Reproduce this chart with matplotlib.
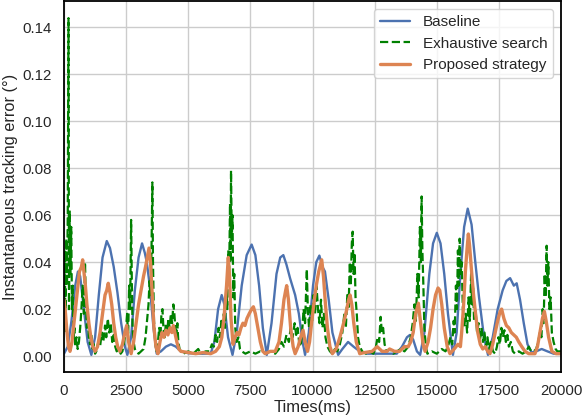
import matplotlib
matplotlib.use('Agg')
import seaborn as sns
from matplotlib import pyplot as plt

# Baseline (smooth)
baseline_t = [0, 150, 300, 450, 560, 650, 800, 950, 1100, 1250, 1400, 1550, 1720, 1850, 2000, 2150, 2300, 2450,
              2550, 2700, 2850, 3000, 3140, 3250, 3330, 3450, 3600, 3730, 3900, 4100, 4300, 4500, 4700, 5000,
              5500, 5900, 6050, 6200, 6345, 6450, 6600, 6780, 6950, 7150, 7350, 7550, 7700, 7850, 8000, 8160,
              8350, 8550, 8700, 8825, 8950, 9100, 9300, 9450, 9600, 9700, 9850, 10020, 10150, 10275, 10400,
              10500, 10650, 10800, 11030, 11200, 11430, 11650, 11900, 12200, 12800, 13390, 13600, 13800, 13920,
              14050, 14200, 14330, 14500, 14700, 14850, 15000, 15150, 15300, 15450, 15650, 15800, 15950, 16100,
              16245, 16400, 16550, 16700, 16900, 17060, 17250, 17450, 17650, 17800, 17950, 18100, 18215, 18350,
              18500, 18650, 18820, 19000, 19220, 19450, 19700, 20000]
baseline_err = [0.001, 0.004, 0.015, 0.030, 0.036, 0.034, 0.020, 0.006, 0.0005, 0.008, 0.026, 0.042, 0.049, 0.046,
                0.038, 0.027, 0.014, 0.004, 0.0005, 0.008, 0.028, 0.042, 0.048, 0.044, 0.040, 0.030, 0.012, 0.001,
                0.002, 0.004, 0.005, 0.004, 0.002, 0.0012, 0.001, 0.001, 0.006, 0.020, 0.026, 0.022, 0.008, 0.0005,
                0.010, 0.030, 0.043, 0.0475, 0.043, 0.030, 0.012, 0.0005, 0.014, 0.035, 0.042, 0.043, 0.039, 0.033,
                0.026, 0.018, 0.006, 0.0005, 0.010, 0.030, 0.040, 0.0428, 0.038, 0.036, 0.024, 0.010, 0.0005, 0.003,
                0.006, 0.004, 0.002, 0.001, 0.001, 0.001, 0.004, 0.008, 0.009, 0.007, 0.002, 0.0005, 0.010, 0.035,
                0.048, 0.0525, 0.048, 0.035, 0.018, 0.0005, 0.010, 0.035, 0.055, 0.0628, 0.056, 0.040, 0.025, 0.008,
                0.0005, 0.008, 0.020, 0.028, 0.032, 0.0332, 0.030, 0.031, 0.024, 0.014, 0.005, 0.0015, 0.002, 0.003,
                0.002, 0.001, 0.001]

# Exhaustive search (spiky)
exhaustive_t = [0, 30, 60, 90, 120, 150, 180, 200, 230, 260, 290, 320, 350, 380, 420, 460, 500, 550, 600, 650,
                700, 750, 800, 845, 880, 920, 960, 1000, 1050, 1100, 1150, 1200, 1250, 1300, 1380, 1450, 1520,
                1580, 1650, 1700, 1760, 1820, 1880, 1940, 2000, 2060, 2120, 2200, 2280, 2350, 2420, 2480, 2540,
                2580, 2620, 2660, 2700, 2730, 2760, 2800, 2850, 2900, 3000, 3100, 3200, 3280, 3340, 3400, 3440,
                3480, 3520, 3555, 3580, 3620, 3680, 3720, 3780, 3830, 3880, 3920, 3960, 4000, 4050, 4100, 4150,
                4200, 4250, 4300, 4350, 4400, 4440, 4480, 4520, 4560, 4600, 4650, 4700, 4800, 5000, 5200, 5400,
                5500, 5700, 5850, 5950, 6030, 6100, 6160, 6220, 6280, 6330, 6380, 6430, 6480, 6530, 6570, 6610,
                6640, 6680, 6700, 6720, 6750, 6780, 6810, 6850, 6890, 6950, 7020, 7080, 7150, 7300, 7500, 7700,
                7900, 8100, 8300, 8500, 8650, 8750, 8850, 8950, 9050, 9120, 9200, 9280, 9340, 9400, 9460, 9520,
                9580, 9640, 9700, 9770, 9810, 9860, 9920, 9980, 10040, 10100, 10160, 10220, 10280, 10340, 10400,
                10460, 10520, 10600, 10700, 10800, 10900, 11000, 11100, 11200, 11280, 11340, 11400, 11450, 11500,
                11540, 11580, 11615, 11650, 11690, 11730, 11780, 11830, 11900, 12000, 12150, 12300, 12450, 12550,
                12620, 12680, 12740, 12790, 12840, 12900, 12980, 13100, 13250, 13400, 13550, 13700, 13850, 13950,
                14030, 14100, 14160, 14220, 14270, 14320, 14360, 14390, 14420, 14460, 14500, 14560, 14620, 14800,
                15000, 15200, 15350, 15450, 15550, 15620, 15680, 15720, 15770, 15810, 15850, 15880, 15920, 15960,
                16000, 16050, 16100, 16160, 16220, 16280, 16330, 16380, 16420, 16460, 16500, 16560, 16620, 16680,
                16740, 16800, 16860, 16920, 16980, 17040, 17100, 17180, 17260, 17350, 17420, 17480, 17540, 17600,
                17660, 17720, 17780, 17840, 17900, 17980, 18060, 18150, 18300, 18450, 18600, 18700, 18800, 18900,
                19000, 19080, 19150, 19210, 19260, 19300, 19340, 19380, 19420, 19450, 19490, 19530, 19580, 19630,
                19700, 19780, 19850, 20000]
exhaustive_err = [0.02, 0.045, 0.01, 0.05, 0.03, 0.06, 0.144, 0.02, 0.062, 0.035, 0.055, 0.02, 0.03, 0.008, 0.012,
                  0.004, 0.008, 0.003, 0.006, 0.012, 0.02, 0.03, 0.018, 0.04, 0.022, 0.012, 0.018, 0.008, 0.005,
                  0.009, 0.003, 0.005, 0.001, 0.002, 0.006, 0.004, 0.01, 0.006, 0.013, 0.008, 0.016, 0.01, 0.014,
                  0.006, 0.009, 0.004, 0.002, 0.003, 0.001, 0.002, 0.006, 0.01, 0.018, 0.008, 0.03, 0.02, 0.058,
                  0.03, 0.012, 0.006, 0.003, 0.002, 0.001, 0.002, 0.003, 0.008, 0.015, 0.022, 0.032, 0.025, 0.045,
                  0.074, 0.04, 0.015, 0.005, 0.002, 0.006, 0.012, 0.008, 0.018, 0.02, 0.012, 0.008, 0.014, 0.01,
                  0.016, 0.012, 0.018, 0.014, 0.022, 0.018, 0.012, 0.008, 0.014, 0.006, 0.003, 0.002, 0.001, 0.002,
                  0.001, 0.003, 0.001, 0.002, 0.002, 0.005, 0.004, 0.009, 0.006, 0.012, 0.008, 0.015, 0.01, 0.018,
                  0.012, 0.03, 0.02, 0.045, 0.03, 0.065, 0.04, 0.079, 0.05, 0.06, 0.025, 0.035, 0.012, 0.006, 0.008,
                  0.003, 0.002, 0.001, 0.002, 0.001, 0.002, 0.001, 0.002, 0.001, 0.003, 0.006, 0.004, 0.009, 0.006,
                  0.012, 0.008, 0.014, 0.009, 0.012, 0.006, 0.004, 0.01, 0.02, 0.014, 0.037, 0.02, 0.012, 0.022,
                  0.015, 0.026, 0.018, 0.03, 0.02, 0.014, 0.024, 0.012, 0.018, 0.008, 0.004, 0.002, 0.001, 0.003,
                  0.002, 0.005, 0.01, 0.018, 0.012, 0.026, 0.02, 0.04, 0.03, 0.048, 0.053, 0.035, 0.044, 0.025,
                  0.018, 0.008, 0.004, 0.002, 0.001, 0.002, 0.001, 0.004, 0.008, 0.006, 0.0167, 0.01, 0.012, 0.005,
                  0.002, 0.003, 0.001, 0.002, 0.003, 0.002, 0.004, 0.008, 0.014, 0.022, 0.015, 0.035, 0.025, 0.055,
                  0.04, 0.068, 0.045, 0.03, 0.012, 0.004, 0.001, 0.002, 0.001, 0.003, 0.002, 0.004, 0.008, 0.005,
                  0.015, 0.01, 0.03, 0.02, 0.045, 0.03, 0.05, 0.035, 0.04, 0.02, 0.012, 0.018, 0.01, 0.025, 0.015,
                  0.035, 0.022, 0.03, 0.015, 0.02, 0.01, 0.014, 0.007, 0.012, 0.006, 0.01, 0.004, 0.008, 0.003,
                  0.006, 0.002, 0.001, 0.004, 0.008, 0.005, 0.012, 0.008, 0.011, 0.006, 0.009, 0.004, 0.006, 0.002,
                  0.001, 0.002, 0.001, 0.002, 0.004, 0.002, 0.002, 0.003, 0.006, 0.01, 0.008, 0.02, 0.014, 0.035,
                  0.025, 0.047, 0.03, 0.04, 0.02, 0.025, 0.01, 0.006, 0.003, 0.002, 0.002]

# Proposed strategy
proposed_t = [0, 60, 120, 180, 240, 320, 400, 480, 560, 620, 700, 750, 800, 860, 920, 1000, 1080, 1160, 1250,
              1350, 1450, 1550, 1650, 1720, 1780, 1850, 1920, 2000, 2080, 2160, 2250, 2350, 2450, 2520, 2600,
              2700, 2800, 2900, 3000, 3100, 3200, 3280, 3350, 3420, 3480, 3550, 3620, 3700, 3780, 3860, 3940,
              4020, 4100, 4180, 4260, 4340, 4400, 4460, 4540, 4620, 4700, 5000, 5300, 5600, 5900, 6100, 6250,
              6350, 6450, 6540, 6610, 6660, 6720, 6800, 6880, 6960, 7040, 7120, 7200, 7280, 7360, 7450, 7550,
              7620, 7700, 7800, 7900, 8000, 8100, 8300, 8500, 8650, 8750, 8850, 8920, 8960, 9030, 9120, 9220,
              9300, 9420, 9520, 9620, 9700, 9800, 9880, 9960, 10050, 10150, 10250, 10370, 10440, 10520, 10600,
              10700, 10800, 10950, 11100, 11250, 11380, 11450, 11510, 11580, 11660, 11760, 11900, 12100, 12400,
              12600, 12800, 13000, 13100, 13300, 13500, 13700, 13850, 13950, 14050, 14150, 14260, 14350, 14450,
              14530, 14650, 14750, 14850, 14950, 15050, 15120, 15200, 15300, 15420, 15530, 15700, 15850, 15950,
              16000, 16080, 16150, 16220, 16270, 16320, 16400, 16480, 16560, 16650, 16750, 16850, 16950, 17050,
              17140, 17250, 17350, 17450, 17550, 17610, 17700, 17800, 17900, 18000, 18100, 18200, 18300, 18420,
              18550, 18700, 18950, 19050, 19150, 19250, 19330, 19400, 19500, 19630, 19800, 20000]
proposed_err = [0.024, 0.018, 0.010, 0.004, 0.002, 0.006, 0.014, 0.022, 0.030, 0.036, 0.038, 0.041, 0.036, 0.030,
                0.022, 0.014, 0.008, 0.004, 0.002, 0.004, 0.010, 0.018, 0.026, 0.028, 0.031, 0.027, 0.022, 0.014,
                0.008, 0.004, 0.002, 0.005, 0.010, 0.013, 0.006, 0.001, 0.006, 0.014, 0.022, 0.028, 0.034, 0.038,
                0.042, 0.046, 0.040, 0.026, 0.012, 0.004, 0.001, 0.006, 0.010, 0.008, 0.011, 0.009, 0.012, 0.010,
                0.013, 0.010, 0.006, 0.003, 0.002, 0.0015, 0.001, 0.0015, 0.001, 0.002, 0.004, 0.008, 0.018, 0.030,
                0.042, 0.034, 0.016, 0.005, 0.008, 0.010, 0.009, 0.012, 0.014, 0.013, 0.016, 0.018, 0.020, 0.021,
                0.018, 0.012, 0.006, 0.002, 0.001, 0.002, 0.002, 0.006, 0.014, 0.024, 0.028, 0.030, 0.024, 0.012,
                0.004, 0.001, 0.004, 0.008, 0.011, 0.006, 0.002, 0.006, 0.014, 0.022, 0.030, 0.036, 0.041, 0.034,
                0.022, 0.012, 0.004, 0.001, 0.003, 0.008, 0.014, 0.020, 0.024, 0.026, 0.022, 0.014, 0.006, 0.001,
                0.0015, 0.002, 0.004, 0.002, 0.002, 0.003, 0.002, 0.002, 0.004, 0.004, 0.006, 0.010, 0.018, 0.0225,
                0.014, 0.005, 0.002, 0.006, 0.012, 0.020, 0.026, 0.029, 0.028, 0.022, 0.012, 0.004, 0.001, 0.003,
                0.005, 0.004, 0.010, 0.022, 0.036, 0.046, 0.052, 0.047, 0.036, 0.026, 0.018, 0.010, 0.005, 0.003,
                0.004, 0.002, 0.001, 0.005, 0.010, 0.015, 0.019, 0.020, 0.016, 0.013, 0.012, 0.010, 0.009, 0.008,
                0.006, 0.004, 0.002, 0.001, 0.001, 0.004, 0.010, 0.016, 0.019, 0.015, 0.008, 0.002, 0.001, 0.001]

sns.set_theme(style='whitegrid')
plt.rcParams['font.family'] = ['Liberation Sans', 'DejaVu Sans']

fig = plt.figure(figsize=(5.82, 4.2), dpi=100)
ax = fig.add_subplot(111)
fig.subplots_adjust(left=0.110, right=0.964, top=0.997, bottom=0.115)

ax.plot(baseline_t, baseline_err, color='#4c72b0', lw=1.7, label='Baseline')
ax.plot(exhaustive_t, exhaustive_err, color='green', lw=1.6, ls='--', label='Exhaustive search')
ax.plot(proposed_t, proposed_err, color='#dd8452', lw=2.4, label='Proposed strategy')

ax.set_xlim(0, 20000)
ax.set_xticks([0, 2500, 5000, 7500, 10000, 12500, 15000, 17500, 20000])
ax.set_yticks([0.0, 0.02, 0.04, 0.06, 0.08, 0.10, 0.12, 0.14])
ax.set_yticklabels([f'{v:.2f}' for v in ax.get_yticks()])
ax.tick_params(labelsize=10.8, colors='#262626', pad=2.5)
ax.set_xlabel('Times(ms)', fontsize=12, labelpad=2)
ax.set_ylabel('Instantaneous tracking error (°)', fontsize=11.8, labelpad=3)
for s in ax.spines.values():
    s.set_color('black')
    s.set_linewidth(1.3)
ax.legend(loc='upper right', fontsize=11, borderaxespad=0.5)

plt.savefig('out.png', dpi=100)
plt.close()
